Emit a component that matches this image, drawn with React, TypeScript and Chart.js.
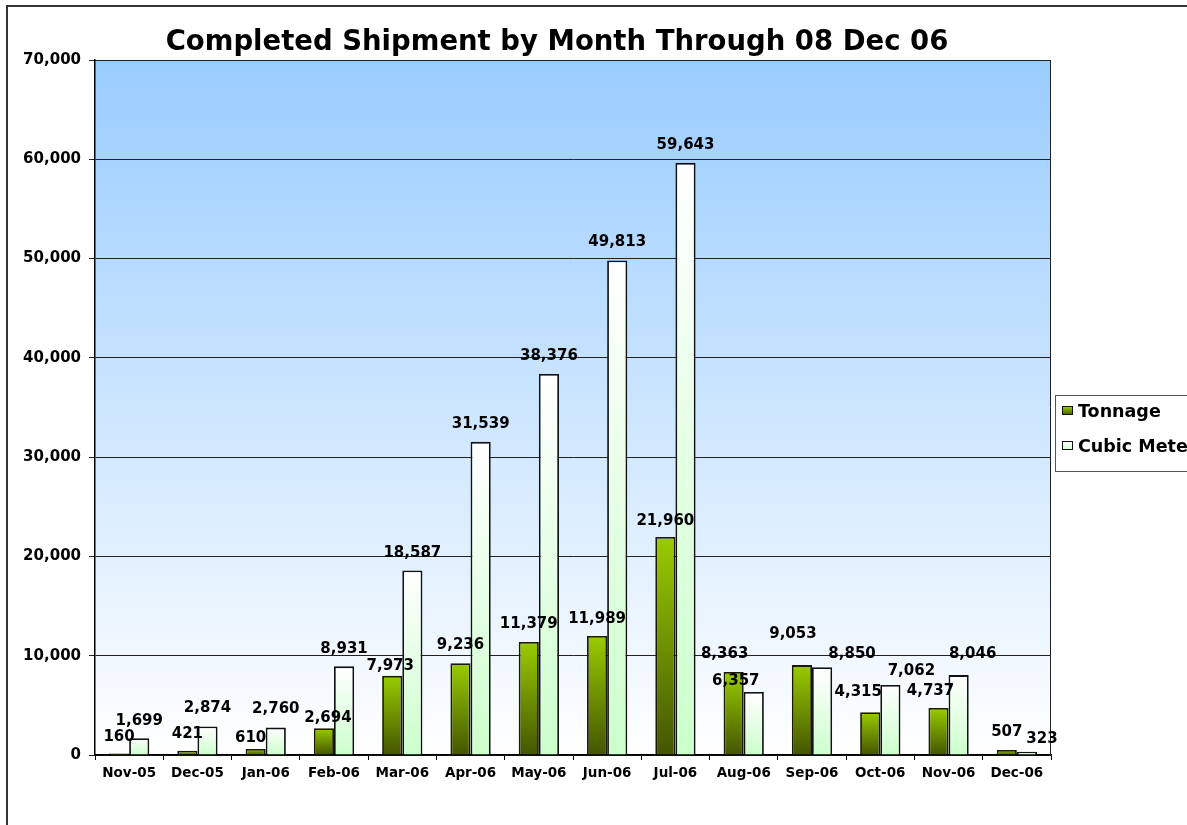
import React, { useEffect, useRef } from "react";
import { Chart, registerables } from "chart.js";

Chart.register(...registerables);

const chartTitle = "Completed Shipment by Month Through 08 Dec 06";
const months = [
  "Nov-05", "Dec-05", "Jan-06", "Feb-06", "Mar-06", "Apr-06", "May-06",
  "Jun-06", "Jul-06", "Aug-06", "Sep-06", "Oct-06", "Nov-06", "Dec-06",
];
const tonnage = [160, 421, 610, 2694, 7973, 9236, 11379, 11989, 21960, 8363, 9053, 4315, 4737, 507];
const cubicMeters = [1699, 2874, 2760, 8931, 18587, 31539, 38376, 49813, 59643, 6357, 8850, 7062, 8046, 323];
const seriesNames = ["Tonnage", "Cubic Meters"];
const yMin = 0;
const yMax = 70000;
const yStep = 10000;

// data-label nudges as in the original (hand-placed labels): [dx, gap above bar top]
const tonnageLabelShift: [number, number][] = [
  [0, 16], [0, 17], [-5, 11], [4, 10], [-2, 10], [0, 18], [0, 18],
  [0, 17], [0, 16], [-9, 18], [-9, 31], [-12, 20], [-8, 17], [0, 18],
];
const cubicLabelShift: [number, number][] = [
  [0, 17], [0, 18], [0, 18], [0, 17], [0, 17], [0, 18], [0, 18],
  [0, 18], [0, 18], [-18, 11], [30, 13], [21, 14], [14, 21], [15, 13],
];

const W = 1187;
const H = 825;
const FONT = '"DejaVu Sans", "Liberation Sans", sans-serif';
const fmt = (v: number) => v.toLocaleString("en-US");

export default function App() {
  const ref = useRef<HTMLCanvasElement>(null);

  useEffect(() => {
    document.body.style.margin = "0";
    const canvas = ref.current;
    if (!canvas) return;

    const gradFill = (top: string, bottom: string, solid: string) => (c: any) => {
      const chart = c.chart;
      const ys = chart.scales && chart.scales.y;
      if (c.type !== "data" || !ys) return solid;
      const t = ys.getPixelForValue(c.raw);
      const b = ys.getPixelForValue(0);
      if (!isFinite(t) || !isFinite(b) || b - t < 1) return solid;
      const g = chart.ctx.createLinearGradient(0, t, 0, b);
      g.addColorStop(0, top);
      g.addColorStop(1, bottom);
      return g;
    };

    const backgroundPlugin = {
      id: "bg",
      beforeDraw(chart: any) {
        const { ctx, chartArea: a } = chart;
        ctx.save();
        ctx.fillStyle = "#ffffff";
        ctx.fillRect(0, 0, chart.width, chart.height);
        const g = ctx.createLinearGradient(0, a.top, 0, a.bottom);
        g.addColorStop(0, "#99CCFF");
        g.addColorStop(1, "#FFFFFF");
        ctx.fillStyle = g;
        ctx.fillRect(a.left, a.top, a.right - a.left, a.bottom - a.top);
        // outer chart border
        ctx.strokeStyle = "#333333";
        ctx.lineWidth = 2;
        ctx.strokeRect(7, 6, 1400, 1000);
        ctx.restore();
      },
    };

    const shifts = [tonnageLabelShift, cubicLabelShift];

    const labelsPlugin = {
      id: "valueLabels",
      afterDatasetsDraw(chart: any) {
        const { ctx } = chart;
        ctx.save();
        const a = chart.chartArea;
        ctx.strokeStyle = "#222222";
        ctx.lineWidth = 1;
        ctx.beginPath();
        ctx.moveTo(a.left, a.top + 0.5);
        ctx.lineTo(a.right - 0.5, a.top + 0.5);
        ctx.lineTo(a.right - 0.5, a.bottom);
        ctx.stroke();

        ctx.font = `bold 15px ${FONT}`;
        ctx.fillStyle = "#000000";
        ctx.textAlign = "center";
        ctx.textBaseline = "middle";
        chart.data.datasets.forEach((ds: any, i: number) => {
          const meta = chart.getDatasetMeta(i);
          meta.data.forEach((el: any, j: number) => {
            const s = shifts[i][j] || [0, 17];
            ctx.fillText(fmt(ds.data[j]), el.x + s[0], el.y - s[1]);
          });
        });
        ctx.restore();
      },
    };

    const titleLegendPlugin = {
      id: "titleLegend",
      afterDraw(chart: any) {
        const { ctx } = chart;
        ctx.save();
        ctx.font = `bold 27.5px ${FONT}`;
        ctx.fillStyle = "#000000";
        ctx.textAlign = "center";
        ctx.textBaseline = "alphabetic";
        ctx.fillText(chartTitle, 557, 50);

        // legend
        ctx.strokeStyle = "#555555";
        ctx.lineWidth = 1;
        ctx.strokeRect(1055.5, 395.5, 300, 76);
        const items = [
          { label: seriesNames[0], y: 411, top: "#99CC00", bottom: "#435500" },
          { label: seriesNames[1], y: 446, top: "#FFFFFF", bottom: "#CCFFCC" },
        ];
        ctx.font = `bold 17.5px ${FONT}`;
        ctx.textAlign = "left";
        ctx.textBaseline = "middle";
        items.forEach((it) => {
          const g = ctx.createLinearGradient(0, it.y - 4, 0, it.y + 4);
          g.addColorStop(0, it.top);
          g.addColorStop(1, it.bottom);
          ctx.fillStyle = g;
          ctx.fillRect(1062, it.y - 4, 10, 8);
          ctx.strokeStyle = "#111111";
          ctx.strokeRect(1062.5, it.y - 4.5, 10, 8);
          ctx.fillStyle = "#000000";
          ctx.fillText(it.label, 1078, it.y + 1);
        });
        ctx.restore();
      },
    };

    const chart = new Chart(canvas, {
      type: "bar",
      data: {
        labels: months,
        datasets: [
          {
            label: seriesNames[0],
            data: tonnage,
            backgroundColor: gradFill("#99CC00", "#435500", "#88b400"),
            borderColor: "#1a1a00",
            borderWidth: 1.8,
            categoryPercentage: 0.59,
            barPercentage: 1,
          },
          {
            label: seriesNames[1],
            data: cubicMeters,
            backgroundColor: gradFill("#FFFFFF", "#CCFFCC", "#e6ffe6"),
            borderColor: "#111111",
            borderWidth: 1.8,
            categoryPercentage: 0.59,
            barPercentage: 1,
          },
        ],
      },
      options: {
        responsive: false,
        animation: false,
        devicePixelRatio: 1,
        layout: { padding: { left: 0, top: 60, right: 136, bottom: 30 } },
        plugins: {
          legend: { display: false },
          title: { display: false },
          tooltip: { enabled: false },
        },
        scales: {
          x: {
            grid: {
              display: true,
              drawOnChartArea: false,
              drawTicks: true,
              tickLength: 5,
              color: "#000000",
              offset: true,
            },
            border: { color: "#000000", width: 1.5 },
            ticks: {
              color: "#000000",
              font: { family: FONT, size: 13.5, weight: "bold" },
              padding: 5,
              maxRotation: 0,
              autoSkip: false,
            },
            afterFit: (axis: any) => {
              axis.height = 40;
            },
          },
          y: {
            min: yMin,
            max: yMax,
            ticks: {
              stepSize: yStep,
              color: "#000000",
              font: { family: FONT, size: 15, weight: "bold" },
              padding: 8,
              callback: (v: any) => fmt(Number(v)),
            },
            grid: {
              color: "#222222",
              lineWidth: 1,
              drawTicks: true,
              tickLength: 6,
            },
            border: { color: "#000000", width: 1.5 },
            afterFit: (axis: any) => {
              axis.width = 95;
            },
          },
        },
      },
      plugins: [backgroundPlugin, labelsPlugin, titleLegendPlugin],
    });

    return () => chart.destroy();
  }, []);

  return (
    <div style={{ width: W, height: H, overflow: "hidden", position: "relative" }}>
      <canvas ref={ref} width={W} height={H} style={{ display: "block", width: W, height: H }} />
    </div>
  );
}
